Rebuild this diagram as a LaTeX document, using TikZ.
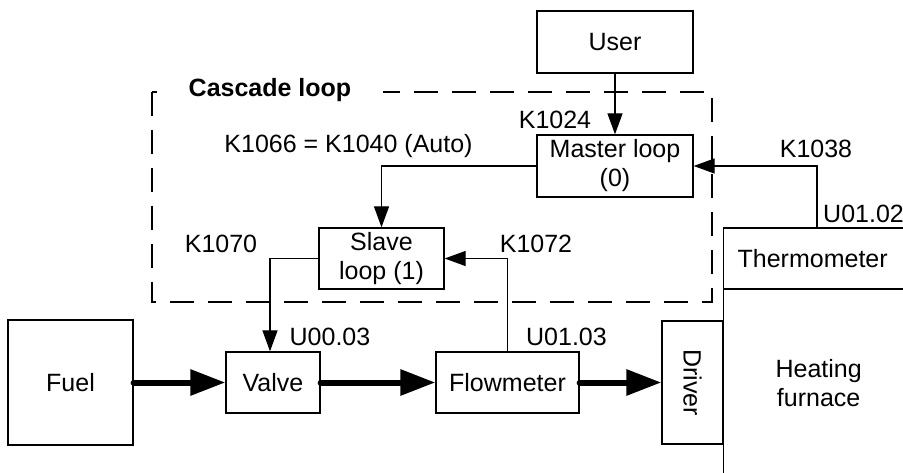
\documentclass[tikz,border=0pt]{standalone}
\usepackage{fontspec}
\setmainfont{Liberation Sans}
\usetikzlibrary{arrows.meta, positioning}

\begin{document}
\begin{tikzpicture}[
    x=1pt, y=-1pt,
    font=\fontsize{25}{29}\selectfont,
    box/.style={draw, line width=1.3pt, align=center, inner sep=0pt},
    link/.style={-{Triangle[length=21pt, width=15pt]}, line width=1.3pt},
    pipe/.style={-{Triangle[length=35pt, width=25pt]}, line width=6pt, line cap=round},
    loopframe/.style={line width=1.3pt, dash pattern=on 24pt off 14pt},
    tag/.style={inner sep=0pt}
]
\useasboundingbox (0,0) rectangle (903,473);
\clip (0,0) rectangle (903,473);

% cascade loop frame
\draw[loopframe] (152,92) |- (712,302) |- cycle;
\node[tag, fill=white, minimum width=226, minimum height=30, font=\fontsize{25}{29}\selectfont\bfseries]
    (title) at (270,90) {Cascade loop};

% blocks
\node[box, minimum width=156, minimum height=62] (user) at (615,42) {User};
\node[box, minimum width=156, minimum height=62] (master) at (615,166) {Master loop\\(0)};
\node[box, minimum width=125, minimum height=61] (slave) at (381.5,258.5) {Slave\\loop (1)};
\node[box, minimum width=125, minimum height=125] (fuel) at (70.5,382.5) {Fuel};
\node[box, minimum width=94, minimum height=61] (valve) at (273,382.5) {Valve};
\node[box, minimum width=143, minimum height=61] (flowmeter) at (507.5,382.5) {Flowmeter};
\node[box, rotate=-90, minimum width=123, minimum height=61] (driver) at (692.5,382.5) {Driver};
\node[box, anchor=west, align=left, text width=180, inner xsep=14pt, minimum height=61]
    (thermo) at (723,258.5) {Thermometer};
\node[box, anchor=north west, minimum width=190, minimum height=186]
    (furnace) at (723,289) {Heating\\furnace};

% signal lines
\draw[link] (user) -- (master);
\draw[link] ([xshift=94pt]thermo.north west) |- (master.east);
\draw[link] (master.west) -| (slave.north);
\draw[link] (slave.west) -| ([xshift=-3pt]valve.north);
\draw[link] (flowmeter.north) |- (slave.east);

% material flow
\draw[pipe] (fuel) -- (valve);
\draw[pipe] (valve) -- (flowmeter);
\draw[pipe] (flowmeter) -- (driver);

% labels
\node[tag] (k1024) at (555,120) {K1024};
\node[tag] (k1066) at (348.5,146) {K1066 = K1040 (Auto)};
\node[tag] (k1038) at (816,149) {K1038};
\node[tag, anchor=west] (u0102) at (823,214) {U01.02};
\node[tag] (k1070) at (221,244) {K1070};
\node[tag] (k1072) at (536,244) {K1072};
\node[tag] (u0003) at (330,337) {U00.03};
\node[tag] (u0103) at (566.5,337) {U01.03};
\end{tikzpicture}
\end{document}
